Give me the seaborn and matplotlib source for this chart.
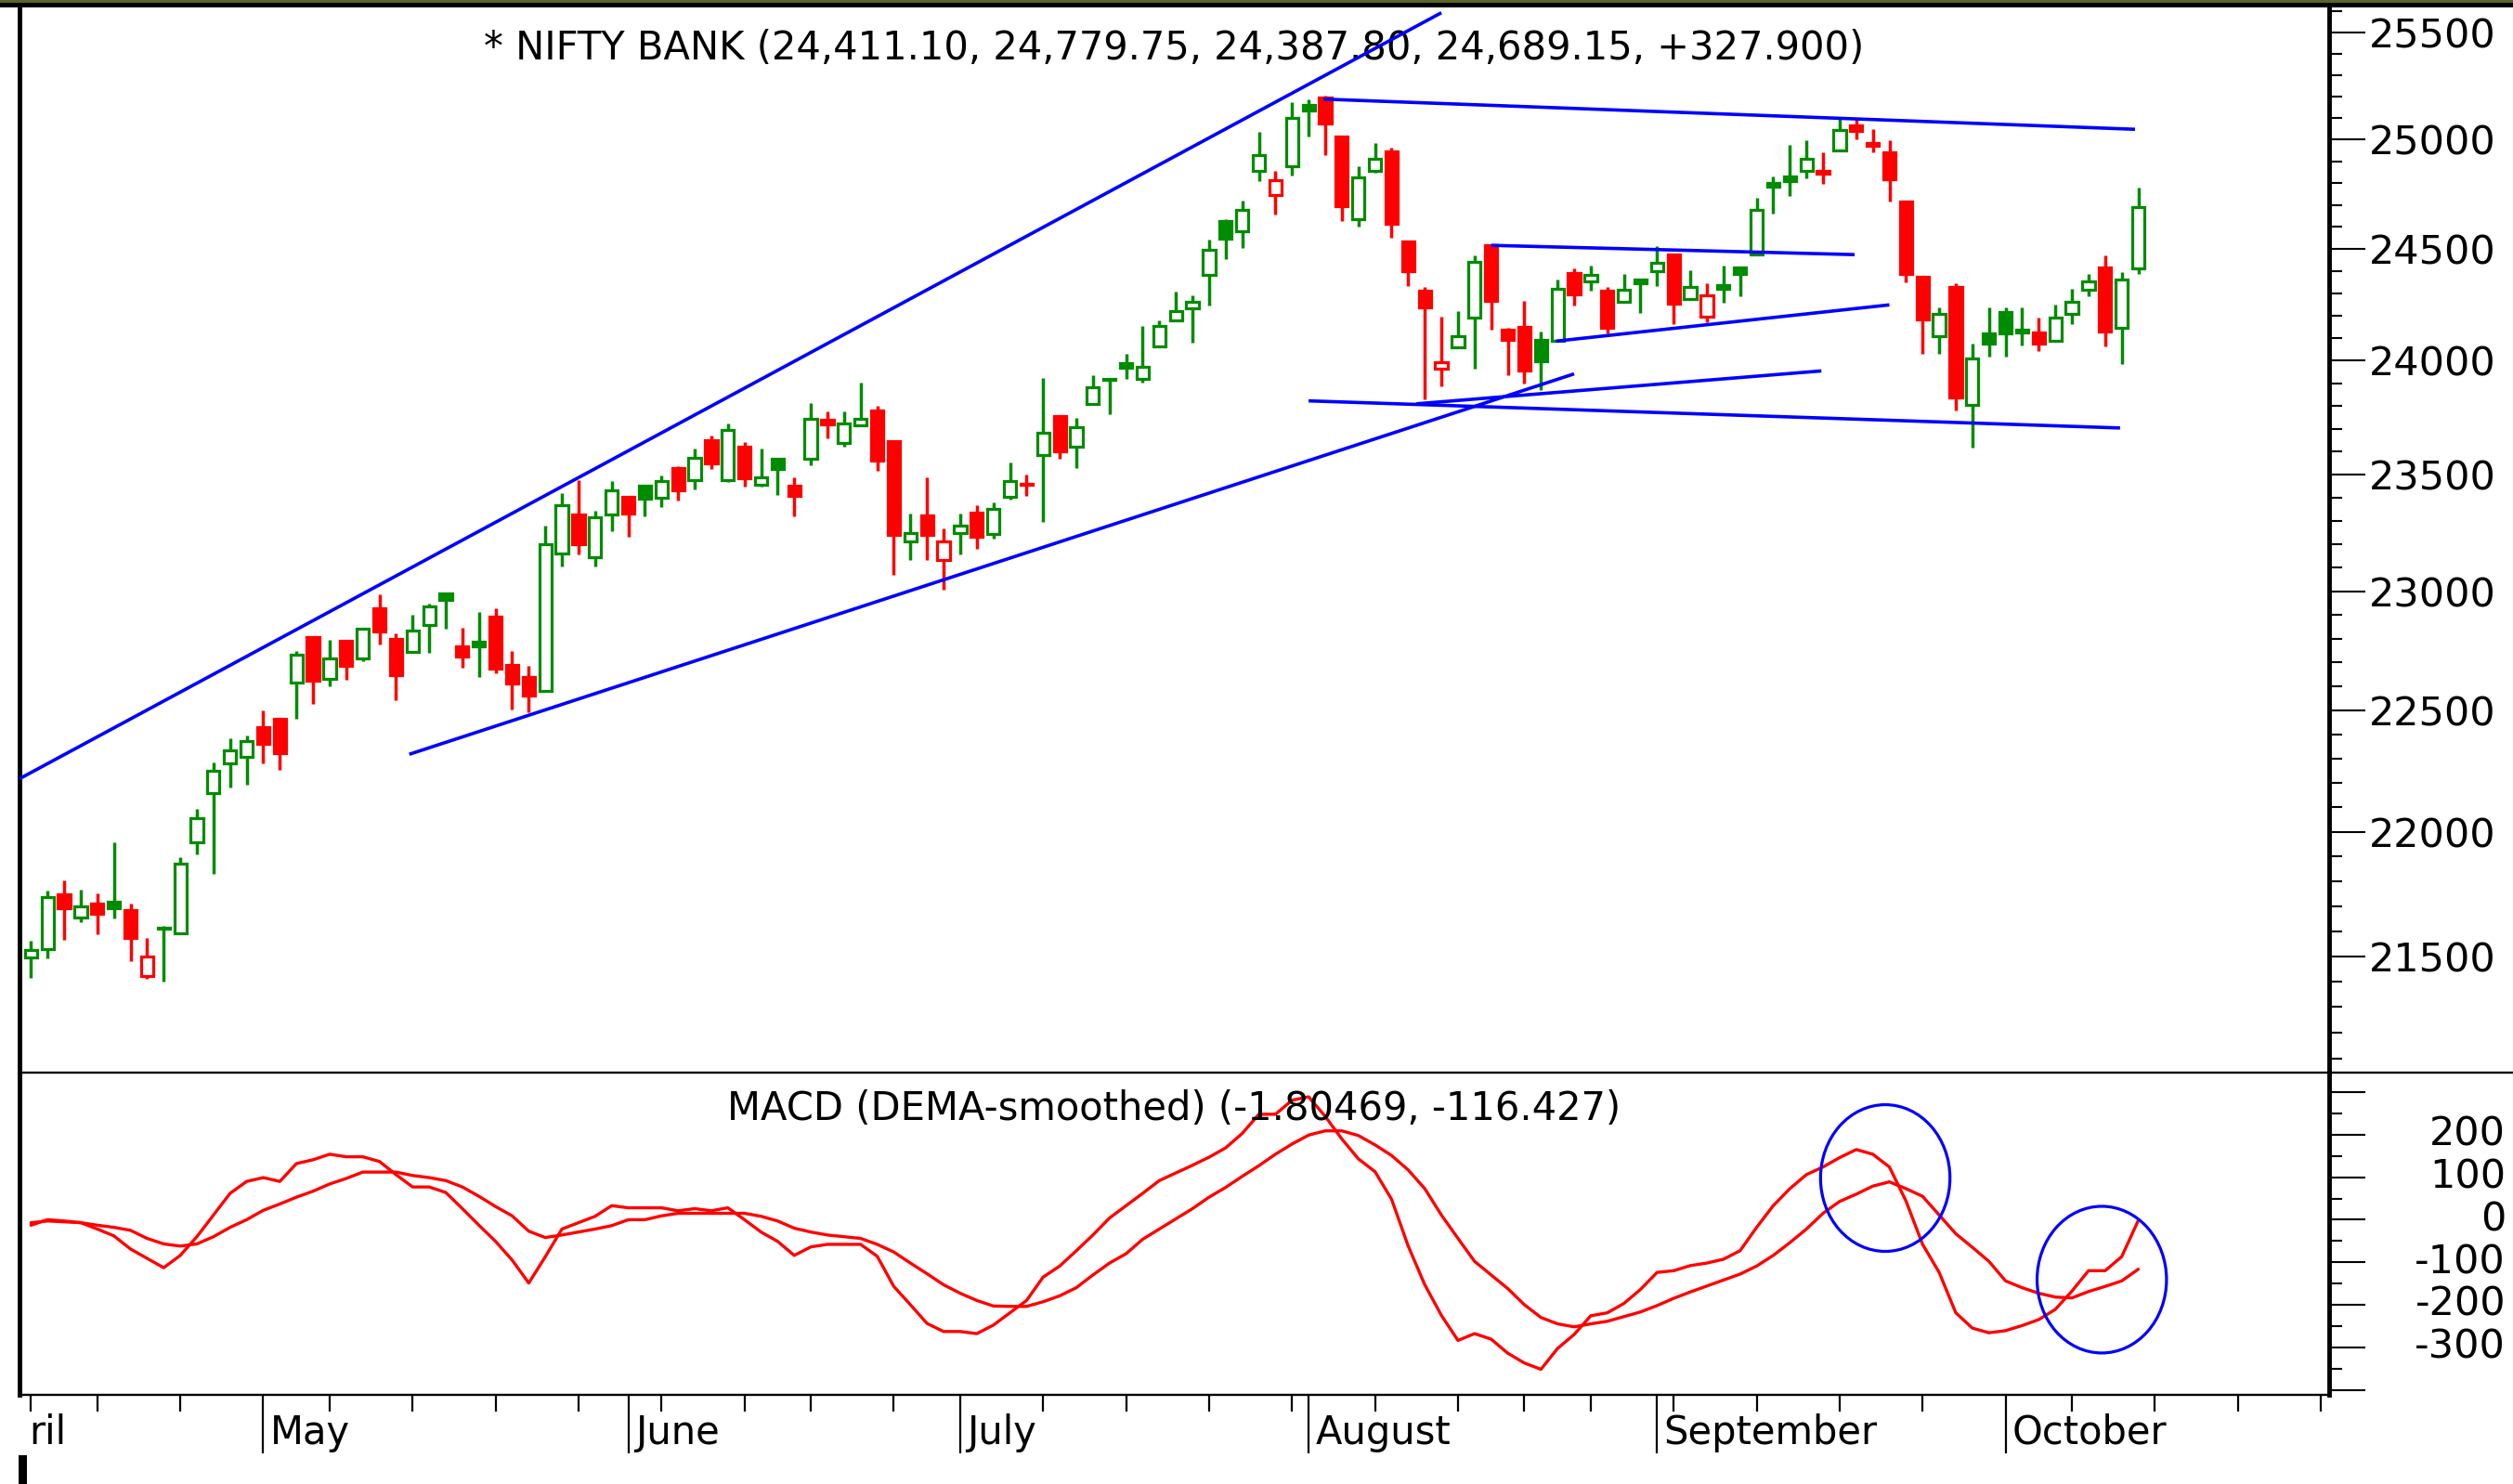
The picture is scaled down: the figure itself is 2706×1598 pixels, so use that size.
import numpy as np
import pandas as pd
import matplotlib
matplotlib.use("Agg")
import matplotlib.pyplot as plt
import seaborn as sns
from matplotlib.patches import Ellipse, Rectangle
from matplotlib.lines import Line2D
from matplotlib.ticker import FixedLocator, FixedFormatter, NullFormatter
from matplotlib.transforms import blended_transform_factory

# ---------------- data (daily candles, Apr-Oct) ----------------
opens = [21496, 21531, 21747, 21655, 21710, 21718, 21684, 21424, 21610, 21593,
         21958, 22158, 22282, 22307, 22430, 22466, 22615, 22806, 22630, 22790,
         22716, 22929, 22799, 22743, 22858, 22991, 22766, 22786, 22893, 22691,
         22640, 22581, 23162, 23327, 23145, 23327, 23404, 23451, 23402, 23531,
         23477, 23650, 23477, 23624, 23455, 23569, 23453, 23569, 23742, 23637,
         23715, 23780, 23647, 23211, 23324, 23133, 23250, 23335, 23246, 23403,
         23455, 23586, 23755, 23623, 23810, 23915, 23990, 23918, 24065, 24180,
         24233, 24383, 24629, 24583, 24858, 24745, 24877, 25162, 25196, 25016,
         24634, 24855, 24947, 24533, 24313, 23966, 24060, 24191, 24516, 24139,
         24150, 24094, 24089, 24391, 24354, 24313, 24263, 24362, 24400, 24474,
         24274, 24196, 24338, 24419, 24477, 24802, 24830, 24855, 24856, 24950,
         25065, 24970, 24943, 24716, 24377, 24111, 24329, 23805, 24120, 24217,
         24140, 24124, 24089, 24209, 24316, 24419, 24148, 24411.10]
highs = [21563, 21763, 21803, 21766, 21753, 21959, 21712, 21574, 21623, 21897,
         22095, 22286, 22384, 22397, 22500, 22470, 22748, 22812, 22795, 22795,
         22821, 22988, 22821, 22900, 22949, 22995, 22847, 22913, 22926, 22747,
         22684, 23282, 23422, 23475, 23344, 23474, 23408, 23458, 23498, 23537,
         23615, 23670, 23722, 23643, 23615, 23572, 23487, 23814, 23776, 23776,
         23903, 23800, 23650, 23331, 23488, 23268, 23331, 23370, 23381, 23553,
         23500, 23923, 23760, 23748, 23937, 23923, 24031, 24153, 24180, 24308,
         24293, 24541, 24635, 24720, 25038, 24858, 25173, 25188, 25204, 25020,
         24879, 24983, 24965, 24540, 24331, 24196, 24221, 24470, 24520, 24145,
         24267, 24131, 24362, 24412, 24426, 24331, 24387, 24365, 24512, 24480,
         24403, 24347, 24426, 24422, 24733, 24830, 24976, 24996, 24942, 25102,
         25102, 25049, 24996, 24720, 24380, 24237, 24346, 24077, 24237, 24237,
         24237, 24193, 24251, 24320, 24387, 24470, 24396, 24779.75]
lows = [21415, 21494, 21565, 21636, 21589, 21651, 21480, 21411, 21399, 21590,
        21909, 21830, 22180, 22193, 22280, 22254, 22466, 22526, 22600, 22626,
        22704, 22775, 22540, 22740, 22741, 22842, 22679, 22639, 22653, 22503,
        22490, 22575, 23107, 23157, 23107, 23258, 23232, 23321, 23362, 23388,
        23438, 23527, 23470, 23450, 23450, 23412, 23321, 23542, 23660, 23621,
        23712, 23517, 23070, 23133, 23133, 23006, 23158, 23182, 23225, 23392,
        23410, 23297, 23569, 23529, 23805, 23765, 23919, 23903, 24060, 24175,
        24080, 24246, 24454, 24504, 24810, 24656, 24836, 25013, 24931, 24629,
        24604, 24850, 24552, 24335, 23830, 23885, 24055, 23963, 24139, 23936,
        23899, 23872, 24085, 24246, 24313, 24121, 24258, 24213, 24335, 24162,
        24270, 24170, 24260, 24288, 24470, 24660, 24742, 24823, 24796, 24945,
        25000, 24942, 24716, 24350, 24029, 24029, 23779, 23620, 24019, 24019,
        24068, 24043, 24085, 24163, 24288, 24064, 23986, 24387.80]
closes = [21525, 21739, 21691, 21700, 21670, 21694, 21574, 21500, 21615, 21872,
          22056, 22250, 22333, 22371, 22362, 22324, 22732, 22622, 22718, 22684,
          22840, 22830, 22645, 22835, 22936, 22962, 22725, 22766, 22673, 22610,
          22561, 23202, 23369, 23202, 23318, 23434, 23331, 23395, 23471, 23434,
          23573, 23549, 23695, 23484, 23490, 23524, 23407, 23746, 23719, 23725,
          23746, 23562, 23240, 23250, 23240, 23214, 23280, 23232, 23352, 23471,
          23462, 23683, 23602, 23708, 23881, 23920, 23971, 23975, 24153, 24221,
          24264, 24498, 24548, 24677, 24927, 24815, 25102, 25134, 25076, 24695,
          24826, 24913, 24613, 24401, 24239, 23994, 24111, 24442, 24267, 24092,
          23958, 23998, 24320, 24295, 24382, 24146, 24316, 24344, 24439, 24253,
          24329, 24291, 24322, 24388, 24677, 24785, 24809, 24913, 24842, 25046,
          25040, 24986, 24816, 24387, 24184, 24209, 23838, 24010, 24077, 24120,
          24125, 24078, 24193, 24263, 24354, 24131, 24361.25, 24689.15]

macd_line = [-13, 0, -3, -7, -22, -38, -69, -91, -113, -84,
             -40, 11, 62, 90, 99, 90, 132, 141, 154, 148,
             148, 137, 106, 77, 77, 64, 26, -13, -51, -95,
             -149, -87, -22, -7, 8, 33, 28, 28, 28, 21,
             26, 21, 28, 0, -29, -51, -84, -64, -58, -58,
             -58, -86, -157, -200, -244, -263, -263, -268, -248, -219,
             -190, -135, -109, -73, -36, 4, 33, 62, 92, 110,
             128, 147, 169, 203, 248, 248, 281, 289, 243, 190,
             143, 113, 48, -62, -153, -225, -284, -268, -281, -314,
             -337, -352, -303, -270, -226, -219, -197, -164, -124, -120,
             -108, -102, -93, -73, -18, 33, 73, 106, 124, 146,
             165, 154, 124, 44, -58, -124, -219, -255, -266, -261,
             -249, -235, -211, -168, -120, -120, -87, -1.80469]
signal_line = [-7, -3, -5, -7, -13, -18, -25, -44, -57, -62,
               -57, -40, -18, 0, 22, 37, 53, 67, 84, 97,
               112, 112, 112, 104, 99, 92, 77, 55, 31, 9,
               -27, -42, -36, -29, -22, -14, 0, 0, 9, 15,
               15, 15, 15, 15, 8, -3, -20, -29, -36, -40,
               -44, -58, -76, -102, -127, -153, -173, -190, -203, -204,
               -204, -193, -179, -160, -130, -102, -80, -46, -22, 2,
               26, 53, 76, 102, 127, 154, 178, 199, 209, 209,
               198, 176, 151, 117, 73, 11, -44, -98, -130, -162,
               -200, -230, -245, -252, -245, -239, -228, -217, -202, -185,
               -170, -156, -142, -128, -109, -84, -54, -22, 15, 43,
               60, 79, 89, 73, 55, 11, -33, -65, -98, -144,
               -160, -173, -182, -184, -169, -157, -144, -116.427]

month_idx = [14, 36, 56, 77, 98, 119]
month_labels = ["May", "June", "July", "August", "September", "October"]
first_label = "ril"
week_idx = [0, 4, 9, 18, 23, 28, 33, 38, 43, 47, 52, 61, 66, 71, 76, 81, 86,
            90, 94, 99, 104, 109, 114, 123, 128, 133, 138]

price_ticks = [21500, 22000, 22500, 23000, 23500, 24000, 24500, 25000, 25500]
price_minor = list(range(21100, 25700, 100))
macd_major = [-400, -300, -200, -100, 0, 100, 200, 300]
macd_labels = ["", "-300", "-200", "-100", "0", "100", "200", ""]
macd_minor = [-350, -250, -150, -50, 50, 150, 250]

# trend lines drawn on the chart: (start day, start price, end day, end price)
trend_x0 = [-0.7, 22.8, 77.9, 77.0, 83.5, 88.0, 91.9]
trend_p0 = [22217, 22318, 25188, 23823, 23810, 24517, 24087]
trend_x1 = [85.0, 93.0, 126.8, 125.9, 107.9, 109.9, 112.0]
trend_p1 = [25593, 23942, 25048, 23704, 23955, 24475, 24249]

ellipse_x = [111.75, 124.8]
ellipse_v = [98, -141]
ellipse_w = [7.8, 7.8]
ellipse_h = [345, 345]

title_text = "* NIFTY BANK (24,411.10, 24,779.75, 24,387.80, 24,689.15, +327.900)"
macd_text = "MACD (DEMA-smoothed) (-1.80469, -116.427)"

# ---------------- style ----------------
sns.set_theme(style="white")
plt.rcParams['font.family'] = ['DejaVu Sans']

GREEN = "#008c00"
RED = "#ff0000"
BLUE = "#0000ff"

W, H = 2706, 1598
fig = plt.figure(figsize=(W / 100, H / 100), dpi=100)
fig.patch.set_facecolor("white")

def fx(px):
    return px / W

def fy(py):
    return 1 - py / H

L_PX, R_PX = 21, 2508
TOP_PX, MID_PX, BOT_PX = 8, 1155, 1502

ax = fig.add_axes([fx(L_PX), fy(MID_PX), (R_PX - L_PX) / W, (MID_PX - TOP_PX) / H])
axm = fig.add_axes([fx(L_PX), fy(BOT_PX), (R_PX - L_PX) / W, (BOT_PX - MID_PX) / H])
for a in (ax, axm):
    a.set_facecolor("white")

n = len(closes)
days = np.arange(n)
o = np.array(opens, float)
h = np.array(highs, float)
l = np.array(lows, float)
c = np.array(closes, float)
prev = np.concatenate([[c[0] - 1], c[:-1]])
cols = [GREEN if c[i] >= prev[i] else RED for i in range(n)]
faces = ["white" if c[i] > o[i] else cols[i] for i in range(n)]

ax.set_yscale("log")
ax.vlines(days, l, h, colors=cols, linewidth=2.5, zorder=2)
bottoms = np.minimum(o, c)
heights = np.maximum(np.abs(c - o), 1.0)
ax.bar(days, heights, bottom=bottoms, width=0.74, color=faces,
       edgecolor=cols, linewidth=2.3, zorder=3)

for x0, p0, x1, p1 in zip(trend_x0, trend_p0, trend_x1, trend_p1):
    ax.plot([x0, x1], [p0, p1], color=BLUE, linewidth=2.6, zorder=4,
            solid_capstyle="butt")

XMIN, XMAX = -0.69, 138.5
ax.set_xlim(XMIN, XMAX)
ax.set_ylim(21044, 25618)
ax.yaxis.set_major_locator(FixedLocator(price_ticks))
ax.yaxis.set_major_formatter(FixedFormatter([str(v) for v in price_ticks]))
ax.yaxis.set_minor_locator(FixedLocator(price_minor))
ax.yaxis.set_minor_formatter(NullFormatter())
ax.yaxis.set_ticks_position("right")
ax.tick_params(axis="y", which="major", direction="out", length=28, width=1.5,
               pad=3, labelsize=31, right=True, left=False, labelright=True,
               labelleft=False, colors="black")
ax.tick_params(axis="y", which="minor", direction="out", length=10, width=1.5,
               right=True, left=False, colors="black")
ax.tick_params(axis="x", which="both", bottom=False, top=False, labelbottom=False)
ax.set_xticks([])
ax.set_xlabel("")
ax.set_ylabel("")

ax.text(0.5, 0.9616, title_text, transform=ax.transAxes, ha="center",
        va="center", fontsize=30, color="black")

# ---------------- MACD panel ----------------
df_macd = pd.DataFrame({"day": days, "macd": macd_line, "signal": signal_line})
sns.lineplot(data=df_macd, x="day", y="signal", ax=axm, color=RED,
             linewidth=2.4, legend=False)
sns.lineplot(data=df_macd, x="day", y="macd", ax=axm, color=RED,
             linewidth=2.4, legend=False)
for ex, ev, ew, eh in zip(ellipse_x, ellipse_v, ellipse_w, ellipse_h):
    axm.add_patch(Ellipse((ex, ev), ew, eh, fill=False, edgecolor=BLUE,
                          linewidth=2.3, zorder=5))

axm.set_xlim(XMIN, XMAX)
axm.set_ylim(-412, 346)
axm.set_xlabel("")
axm.set_ylabel("")
axm.yaxis.set_major_locator(FixedLocator(macd_major))
axm.yaxis.set_major_formatter(NullFormatter())
axm.yaxis.set_minor_locator(FixedLocator(macd_minor))
axm.yaxis.set_ticks_position("right")
axm.tick_params(axis="y", which="major", direction="out", length=28, width=1.5,
                right=True, left=False, labelright=False, labelleft=False,
                colors="black")
axm.tick_params(axis="y", which="minor", direction="out", length=10, width=1.5,
                right=True, left=False, colors="black")
lab_tr = blended_transform_factory(axm.transAxes, axm.transData)
xr = (2698 - L_PX) / (R_PX - L_PX)
for v, s in zip(macd_major, macd_labels):
    if s:
        axm.text(xr, v, s, transform=lab_tr, ha="right", va="center",
                 fontsize=31, color="black", clip_on=False)

axm.xaxis.set_major_locator(FixedLocator(month_idx))
axm.xaxis.set_major_formatter(NullFormatter())
axm.xaxis.set_minor_locator(FixedLocator(week_idx))
axm.tick_params(axis="x", which="major", direction="out", length=45, width=1.6,
                bottom=True, top=False, labelbottom=False, colors="black")
axm.tick_params(axis="x", which="minor", direction="out", length=13, width=1.6,
                bottom=True, top=False, colors="black")

mtr = blended_transform_factory(axm.transData, axm.transAxes)
for mi, ml in zip(month_idx, month_labels):
    axm.text(mi + 0.4, -0.118, ml, transform=mtr, ha="left", va="center",
             fontsize=30, color="black", clip_on=False)
axm.text(-0.1, -0.118, first_label, transform=mtr, ha="left", va="center",
         fontsize=30, color="black", clip_on=False)

axm.text(0.5, 0.888, macd_text, transform=axm.transAxes, ha="center",
         va="center", fontsize=30, color="black")

# ---------------- frame ----------------
for a in (ax, axm):
    for side in ("left", "right"):
        a.spines[side].set_visible(True)
        a.spines[side].set_color("black")
        a.spines[side].set_linewidth(3.5)
    a.spines["top"].set_visible(False)
ax.spines["bottom"].set_visible(False)
axm.spines["bottom"].set_visible(True)
axm.spines["bottom"].set_color("black")
axm.spines["bottom"].set_linewidth(1.7)

fig.add_artist(Line2D([fx(L_PX), 1.0], [fy(MID_PX), fy(MID_PX)],
                      transform=fig.transFigure, color="black", linewidth=1.7))
fig.add_artist(Rectangle((0, fy(3.5)), 1, 3.5 / H, transform=fig.transFigure,
                         facecolor="#5b6326", edgecolor="none"))
fig.add_artist(Rectangle((0, fy(TOP_PX)), 1, (TOP_PX - 3.5) / H,
                         transform=fig.transFigure, facecolor="black",
                         edgecolor="none"))
fig.add_artist(Rectangle((fx(20), fy(1598)), 9 / W, 31 / H,
                         transform=fig.transFigure, facecolor="black",
                         edgecolor="none"))

fig.savefig("out.png", dpi=100, facecolor="white")
